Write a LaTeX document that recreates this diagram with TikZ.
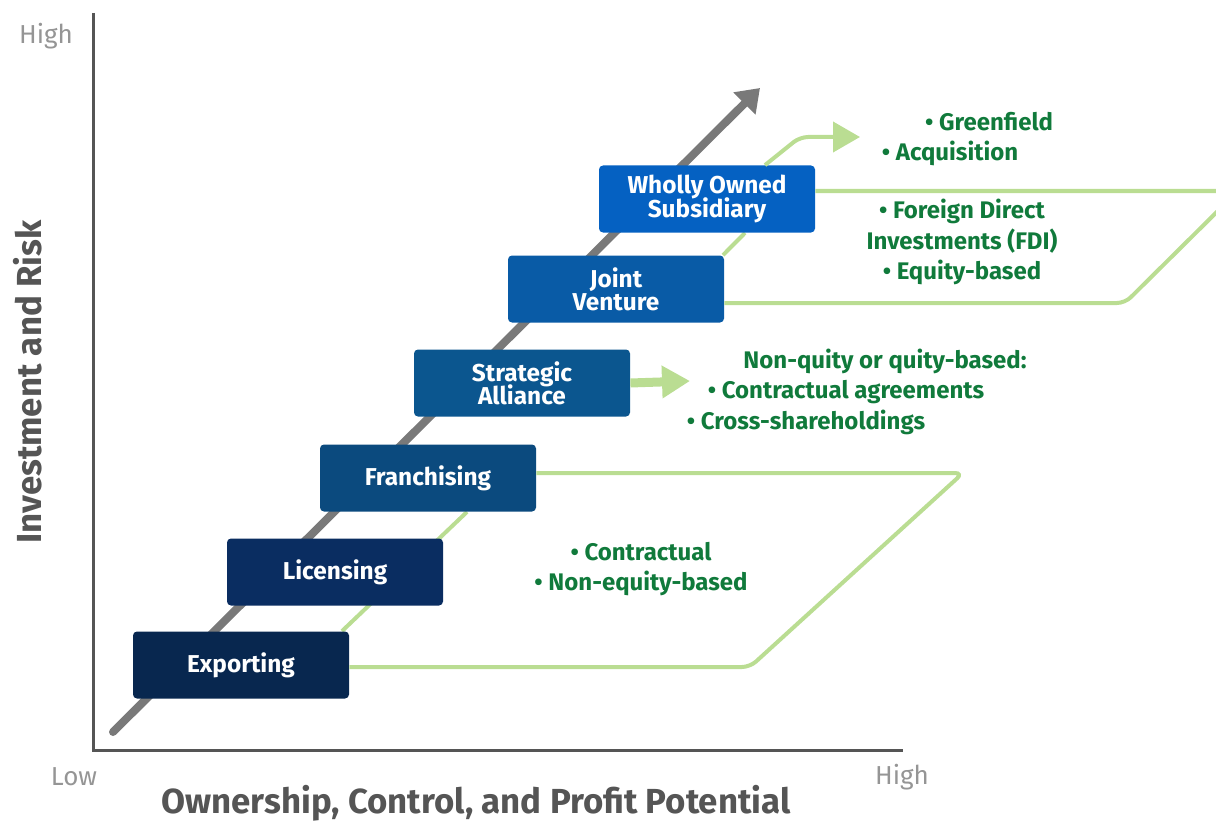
\documentclass[tikz,border=0pt]{standalone}
\usepackage{fontspec}
\setmainfont{Fira Sans}
\usetikzlibrary{arrows.meta,backgrounds}

\definecolor{stageA}{HTML}{08274F}
\definecolor{stageB}{HTML}{0A2D61}
\definecolor{stageC}{HTML}{0B4A7E}
\definecolor{stageD}{HTML}{0B568F}
\definecolor{stageE}{HTML}{095BA6}
\definecolor{stageF}{HTML}{0561C2}
\definecolor{pathgrn}{HTML}{BADD92}
\definecolor{notegrn}{HTML}{107A3B}
\definecolor{axisgray}{HTML}{555555}
\definecolor{scalegray}{HTML}{959595}

\newcommand\stagefont{\bfseries\fontsize{12.2}{11.6}\selectfont\lineskiplimit=-8pt\relax}

\tikzset{
  stage/.style={rectangle,rounded corners=2pt,minimum width=108pt,minimum height=33.5pt,
    inner sep=0pt,text=white,align=center,font=\stagefont},
  greenpath/.style={draw=pathgrn,line width=2pt,rounded corners=4pt},
  note/.style={text=notegrn,align=center,inner sep=0pt,font=\bfseries\fontsize{12}{15.2}\selectfont},
  scalelabel/.style={text=scalegray,inner sep=0pt,font=\fontsize{13}{13}\selectfont},
  axislabel/.style={text=axisgray,inner sep=0pt,font=\bfseries\fontsize{17.4}{18}\selectfont}
}

\begin{document}
\begin{tikzpicture}[x=0.5pt,y=-0.5pt]
  \useasboundingbox (0,0) rectangle (1216,824);
  \clip (0,0) rectangle (1216,824);

  % axes
  \draw[axisgray,line width=1.5pt] (93,13) -- (93,750) -- (903,750);
  \node[scalelabel] (yhigh) at (46,36) {High};
  \node[scalelabel] (xlow) at (74,777) {Low};
  \node[scalelabel] (xhigh) at (902,777) {High};
  \node[axislabel,rotate=90] (ylab) at (28,382) {Investment and Risk};
  \node[axislabel] (xlab) at (476,803) {Ownership, Control, and Profit Potential};

  % trend arrow
  \coordinate (trendlow) at (113,732);
  \coordinate (trendhigh) at (760,88);
  \draw[gray!95!black,line width=4pt,line cap=round,-{Triangle[length=11pt,width=15pt]}] (trendlow) -- (trendhigh);

  % entry modes
  \node[stage,fill=stageA] (exp) at (241,665) {Exporting};
  \node[stage,fill=stageB] (lic) at (335,572) {Licensing};
  \node[stage,fill=stageC] (fra) at (428,478) {Franchising};
  \node[stage,fill=stageD] (sal) at (522,383) {Strategic\\Alliance};
  \node[stage,fill=stageE] (jv) at (616,289) {Joint\\Venture};
  \node[stage,fill=stageF] (wos) at (707,199) {Wholly Owned\\Subsidiary};

  % groupings
  \coordinate (lowturn) at (750,667);
  \coordinate (lowtop) at (963,473);
  \coordinate (uppturn) at (1125,303);
  \coordinate (upptop) at (1238,191);
  \coordinate (bend) at (800,137);
  \coordinate (fdihead) at (860,137);
  \coordinate (salhead) at (690,381);

  \begin{pgfonlayer}{background}
    \draw[greenpath] ([xshift=50.5pt]exp.north) -- ([xshift=19.5pt]fra.south);
    \draw[greenpath] ([xshift=53.5pt]jv.north) -- ([xshift=19pt]wos.south);
  \end{pgfonlayer}
  \draw[greenpath] ([yshift=-1pt]exp.east) -- (lowturn) -- (lowtop) -- ([yshift=2.5pt]fra.east);
  \draw[greenpath] ([yshift=-7pt]jv.east) -- (uppturn) -- (upptop) -- ([yshift=4pt]wos.east);
  \draw[greenpath,-{Triangle[length=13.5pt,width=15pt]}] ([xshift=29pt]wos.north) -- (bend) -- (fdihead);
  \draw[draw=pathgrn,line width=4.5pt,-{Triangle[length=14pt,width=15.5pt]}] (sal.east) -- (salhead);

  % notes
  \node[note] (green) at (989,122) {• Greenfield};
  \node[note] (acq) at (950,153) {• Acquisition};
  \node[note] (fdi) at (962,242) {• Foreign Direct\\Investments (FDI)\\• Equity-based};
  \node[note] (eqq) at (885,361) {Non-quity or quity-based:};
  \node[note] (ctr) at (846,392) {• Contractual agreements};
  \node[note] (cross) at (806,422) {• Cross-shareholdings};
  \node[note] (neq) at (641,569) {• Contractual\\• Non-equity-based};
\end{tikzpicture}
\end{document}
